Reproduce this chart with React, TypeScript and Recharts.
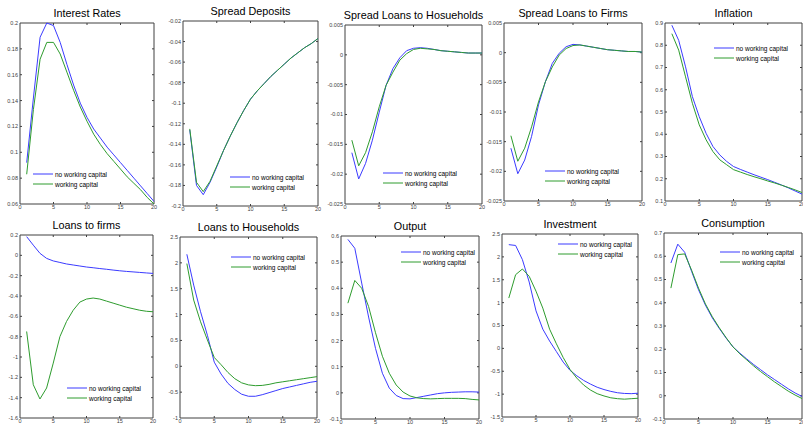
import React from "react";
import { LineChart, Line, XAxis, YAxis, ReferenceArea, ReferenceLine } from "recharts";

const periods = [1, 2, 3, 4, 5, 6, 7, 8, 9, 10, 11, 12, 13, 14, 15, 16, 17, 18, 19, 20];
const xTicks = [0, 5, 10, 15, 20];
const seriesNames = ["no working capital", "working capital"];

const interestNoWc = [0.092, 0.142, 0.189, 0.2, 0.198, 0.185, 0.168, 0.152, 0.138, 0.127, 0.118, 0.111, 0.104, 0.098, 0.092, 0.086, 0.08, 0.074, 0.068, 0.062];
const interestWc = [0.083, 0.133, 0.172, 0.185, 0.185, 0.176, 0.162, 0.148, 0.135, 0.124, 0.114, 0.106, 0.099, 0.093, 0.087, 0.081, 0.076, 0.071, 0.065, 0.06];
const interestTicks = [0.06, 0.08, 0.1, 0.12, 0.14, 0.16, 0.18, 0.2];

const depositsNoWc = [-0.126, -0.18, -0.189, -0.177, -0.162, -0.146, -0.132, -0.119, -0.107, -0.096, -0.088, -0.081, -0.074, -0.068, -0.062, -0.056, -0.051, -0.046, -0.042, -0.037];
const depositsWc = [-0.125, -0.177, -0.186, -0.176, -0.161, -0.146, -0.132, -0.119, -0.107, -0.096, -0.088, -0.081, -0.074, -0.068, -0.062, -0.056, -0.051, -0.046, -0.042, -0.037];
const depositsTicks = [-0.2, -0.18, -0.16, -0.14, -0.12, -0.1, -0.08, -0.06, -0.04, -0.02];

const loansHhSpreadNoWc = [-0.0164, -0.0208, -0.0182, -0.0143, -0.0096, -0.0051, -0.0023, -0.0005, 0.0007, 0.0011, 0.0012, 0.0011, 0.0009, 0.0007, 0.0006, 0.0005, 0.0004, 0.0003, 0.0003, 0.0003];
const loansHhSpreadWc = [-0.0143, -0.0186, -0.0164, -0.0129, -0.0087, -0.0051, -0.0029, -0.0009, 0.0002, 0.0009, 0.0011, 0.001, 0.0009, 0.0007, 0.0006, 0.0005, 0.0004, 0.0003, 0.0003, 0.0003];
const spreadTicks = [-0.025, -0.02, -0.015, -0.01, -0.005, 0, 0.005];

const loansFirmSpreadNoWc = [-0.0161, -0.0204, -0.0181, -0.0141, -0.0088, -0.0049, -0.0018, -0.0001, 0.001, 0.0014, 0.0013, 0.0011, 0.0009, 0.0007, 0.0005, 0.0004, 0.0003, 0.0002, 0.0002, 0.0001];
const loansFirmSpreadWc = [-0.014, -0.0183, -0.0161, -0.0125, -0.0083, -0.0049, -0.0024, -0.0004, 0.0007, 0.0012, 0.0013, 0.0011, 0.0009, 0.0007, 0.0005, 0.0004, 0.0003, 0.0002, 0.0002, 0.0001];

const inflationNoWc = [0.89, 0.822, 0.703, 0.569, 0.479, 0.404, 0.345, 0.307, 0.278, 0.255, 0.242, 0.23, 0.218, 0.207, 0.196, 0.184, 0.172, 0.159, 0.145, 0.131];
const inflationWc = [0.852, 0.778, 0.658, 0.539, 0.442, 0.375, 0.322, 0.285, 0.263, 0.241, 0.23, 0.219, 0.209, 0.2, 0.19, 0.181, 0.171, 0.161, 0.15, 0.138];
const inflationTicks = [0.1, 0.2, 0.3, 0.4, 0.5, 0.6, 0.7, 0.8, 0.9];

const loansFirmsNoWc = [0.184, 0.1, 0.02, -0.03, -0.055, -0.07, -0.085, -0.095, -0.105, -0.115, -0.122, -0.13, -0.137, -0.145, -0.152, -0.158, -0.163, -0.168, -0.173, -0.178];
const loansFirmsWc = [-0.749, -1.273, -1.413, -1.305, -1.06, -0.8, -0.65, -0.54, -0.46, -0.43, -0.42, -0.43, -0.45, -0.47, -0.49, -0.51, -0.525, -0.54, -0.55, -0.555];
const loansFirmsTicks = [-1.6, -1.4, -1.2, -1, -0.8, -0.6, -0.4, -0.2, 0, 0.2];

const loansHhNoWc = [2.166, 1.57, 1.055, 0.6, 0.08, -0.15, -0.33, -0.45, -0.54, -0.58, -0.58, -0.55, -0.51, -0.47, -0.43, -0.4, -0.37, -0.34, -0.31, -0.29];
const loansHhWc = [1.986, 1.28, 0.86, 0.51, 0.17, 0.03, -0.12, -0.24, -0.32, -0.36, -0.375, -0.37, -0.35, -0.32, -0.3, -0.28, -0.26, -0.24, -0.22, -0.2];
const loansHhTicks = [-1, -0.5, 0, 0.5, 1, 1.5, 2, 2.5];

const outputNoWc = [0.587, 0.553, 0.42, 0.29, 0.17, 0.075, 0.018, -0.01, -0.022, -0.023, -0.018, -0.013, -0.008, -0.003, 0, 0.002, 0.003, 0.004, 0.004, 0.003];
const outputWc = [0.343, 0.43, 0.4, 0.33, 0.23, 0.14, 0.075, 0.03, 0.003, -0.012, -0.019, -0.022, -0.023, -0.022, -0.021, -0.021, -0.021, -0.022, -0.025, -0.027];
const outputTicks = [-0.1, 0, 0.1, 0.2, 0.3, 0.4, 0.5, 0.6];

const investmentNoWc = [2.267, 2.25, 1.94, 1.45, 0.82, 0.42, 0.16, -0.07, -0.3, -0.48, -0.6, -0.7, -0.78, -0.85, -0.9, -0.94, -0.97, -0.985, -0.99, -0.98];
const investmentWc = [1.1, 1.61, 1.735, 1.575, 1.25, 0.88, 0.42, 0.1, -0.2, -0.46, -0.65, -0.8, -0.91, -0.99, -1.04, -1.08, -1.1, -1.11, -1.1, -1.09];
const investmentTicks = [-1.5, -1, -0.5, 0, 0.5, 1, 1.5, 2, 2.5];

const consumptionNoWc = [0.571, 0.652, 0.617, 0.535, 0.456, 0.39, 0.335, 0.29, 0.248, 0.21, 0.183, 0.158, 0.134, 0.112, 0.09, 0.07, 0.05, 0.03, 0.012, -0.003];
const consumptionWc = [0.463, 0.607, 0.61, 0.54, 0.463, 0.395, 0.34, 0.293, 0.25, 0.21, 0.18, 0.154, 0.128, 0.104, 0.082, 0.06, 0.04, 0.02, 0.003, -0.012];
const consumptionTicks = [-0.1, 0, 0.1, 0.2, 0.3, 0.4, 0.5, 0.6, 0.7];

const BLUE = "#3b3bff";
const GREEN = "#2e9c2e";
const AXIS = "#404040";
const FONT = "'Liberation Sans', Arial, sans-serif";

type Box = { x: number; y: number; w: number; h: number };
type PanelDef = {
  title: string;
  noWc: number[];
  wc: number[];
  yTicks: number[];
  box: Box;
  legend: [number, number];
};

const panels: PanelDef[] = [
  { title: "Interest Rates", noWc: interestNoWc, wc: interestWc, yTicks: interestTicks, box: { x: 20, y: 23, w: 134, h: 181 }, legend: [33, 174] },
  { title: "Spread Deposits", noWc: depositsNoWc, wc: depositsWc, yTicks: depositsTicks, box: { x: 183, y: 21, w: 135, h: 185 }, legend: [230, 177] },
  { title: "Spread Loans to Hosueholds", noWc: loansHhSpreadNoWc, wc: loansHhSpreadWc, yTicks: spreadTicks, box: { x: 345, y: 25, w: 137, h: 179 }, legend: [383, 173] },
  { title: "Spread Loans to Firms", noWc: loansFirmSpreadNoWc, wc: loansFirmSpreadWc, yTicks: spreadTicks, box: { x: 504, y: 23, w: 138, h: 178 }, legend: [545, 171] },
  { title: "Inflation", noWc: inflationNoWc, wc: inflationWc, yTicks: inflationTicks, box: { x: 665, y: 23, w: 137, h: 178 }, legend: [714, 48] },
  { title: "Loans to firms", noWc: loansFirmsNoWc, wc: loansFirmsWc, yTicks: loansFirmsTicks, box: { x: 20, y: 235, w: 133, h: 183 }, legend: [67, 388] },
  { title: "Loans to Households", noWc: loansHhNoWc, wc: loansHhWc, yTicks: loansHhTicks, box: { x: 180, y: 237, w: 137, h: 181 }, legend: [231, 257] },
  { title: "Output", noWc: outputNoWc, wc: outputWc, yTicks: outputTicks, box: { x: 341, y: 236, w: 138, h: 183 }, legend: [401, 252] },
  { title: "Investment", noWc: investmentNoWc, wc: investmentWc, yTicks: investmentTicks, box: { x: 502, y: 234, w: 136, h: 183 }, legend: [558, 244] },
  { title: "Consumption", noWc: consumptionNoWc, wc: consumptionWc, yTicks: consumptionTicks, box: { x: 664, y: 233, w: 138, h: 186 }, legend: [720, 252] },
];

const fmt = (v: number) => String(Number(v.toFixed(4)));
const tickStyle = { fontSize: 5.5, fill: AXIS, fontFamily: FONT };

function Panel({ p }: { p: PanelDef }) {
  const { box } = p;
  const data = periods.map((t, i) => ({ t, noWc: p.noWc[i], wc: p.wc[i] }));
  const yMin = p.yTicks[0];
  const yMax = p.yTicks[p.yTicks.length - 1];
  const left = 30, top = 20, bottom = 12, right = 4;
  // inward tick length (2px) expressed in data units
  const dy = ((yMax - yMin) * 2) / box.h;
  const dx = (20 * 2) / box.w;
  const innerX = xTicks.slice(1, -1);
  const innerY = p.yTicks.slice(1, -1);
  return (
    <>
      <div
        style={{
          position: "absolute",
          left: box.x + box.w / 2,
          top: box.y - 17,
          transform: "translateX(-50%)",
          whiteSpace: "nowrap",
          fontSize: 10.8,
          lineHeight: "14px",
          fontFamily: FONT,
          color: "#000",
        }}
      >
        {p.title}
      </div>
      <div style={{ position: "absolute", left: box.x - left, top: box.y - top }}>
        <LineChart
          width={box.w + left + right}
          height={box.h + top + bottom}
          data={data}
          margin={{ top, right, bottom: 0, left: 0 }}
        >
          <XAxis
            dataKey="t"
            type="number"
            domain={[0, 20]}
            ticks={xTicks}
            interval={0}
            height={bottom}
            axisLine={false}
            tickLine={false}
            tickSize={0}
            tickMargin={1}
            tick={tickStyle}
          />
          <YAxis
            type="number"
            domain={[yMin, yMax]}
            ticks={p.yTicks}
            interval={0}
            width={left}
            axisLine={false}
            tickLine={false}
            tickSize={0}
            tickMargin={2}
            tick={tickStyle}
            tickFormatter={fmt}
          />
          {/* box around the plot, like the matlab axes frame */}
          <ReferenceArea
            x1={0}
            x2={20}
            y1={yMin}
            y2={yMax}
            fill="none"
            fillOpacity={0}
            stroke={AXIS}
            strokeWidth={1}
            ifOverflow="visible"
          />
          {innerX.map((x) => (
            <ReferenceLine key={`b${x}`} segment={[{ x, y: yMin }, { x, y: yMin + dy }]} stroke={AXIS} ifOverflow="visible" />
          ))}
          {innerX.map((x) => (
            <ReferenceLine key={`t${x}`} segment={[{ x, y: yMax }, { x, y: yMax - dy }]} stroke={AXIS} ifOverflow="visible" />
          ))}
          {innerY.map((y) => (
            <ReferenceLine key={`l${y}`} segment={[{ x: 0, y }, { x: dx, y }]} stroke={AXIS} ifOverflow="visible" />
          ))}
          {innerY.map((y) => (
            <ReferenceLine key={`r${y}`} segment={[{ x: 20, y }, { x: 20 - dx, y }]} stroke={AXIS} ifOverflow="visible" />
          ))}
          <Line dataKey="noWc" stroke={BLUE} strokeWidth={1} dot={false} isAnimationActive={false} />
          <Line dataKey="wc" stroke={GREEN} strokeWidth={1} dot={false} isAnimationActive={false} />
        </LineChart>
      </div>
      <div
        style={{
          position: "absolute",
          left: p.legend[0],
          top: p.legend[1] - 5,
          fontSize: 6.5,
          fontFamily: FONT,
          color: "#000",
        }}
      >
        {seriesNames.map((name, i) => (
          <div key={name} style={{ display: "flex", alignItems: "center", height: 10 }}>
            <svg width={22} height={10} style={{ display: "block" }}>
              <line x1={0} y1={5} x2={20} y2={5} stroke={i === 0 ? BLUE : GREEN} strokeWidth={1} />
            </svg>
            <span style={{ whiteSpace: "nowrap" }}>{name}</span>
          </div>
        ))}
      </div>
    </>
  );
}

export default function App() {
  return (
    <div style={{ position: "absolute", left: 0, top: 0, width: 803, height: 427, background: "#fff", overflow: "hidden" }}>
      {panels.map((p) => (
        <Panel key={p.title} p={p} />
      ))}
    </div>
  );
}
